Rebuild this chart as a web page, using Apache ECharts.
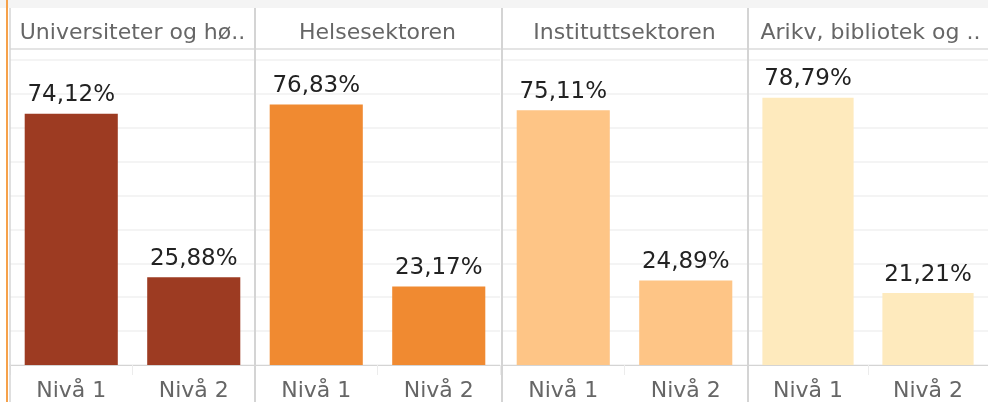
<!DOCTYPE html>
<html>
<head>
<meta charset="utf-8">
<script src="https://cdn.jsdelivr.net/npm/echarts@6/dist/echarts.min.js"></script>
<style>
  html, body { margin: 0; padding: 0; background: #fff; }
  #chart { width: 988px; height: 402px; }
</style>
</head>
<body>
<div id="chart"></div>
<script>
// data
const sectors = ['Universiteter og hø..', 'Helsesektoren', 'Instituttsektoren', 'Arikv, bibliotek og ..']
const levels = ['Nivå 1', 'Nivå 2']
const niva1 = [74.12, 76.83, 75.11, 78.79]
const niva2 = [25.88, 23.17, 24.89, 21.21]
const colors = ['#9D3B22', '#F08A31', '#FEC586', '#FEEABD']

// layout
const panelLeft = [10, 255, 502, 748]
const panelWidth = 245
const plotTop = 49
const axisY = 365
const font = 'DejaVu Sans'

const chart = echarts.init(document.getElementById('chart'))

let grids = [], xAxes = [], yAxes = [], series = [], graphics = []

// top band + left lines
graphics.push({ type: 'rect', shape: { x: 0, y: 0, width: 988, height: 8 }, style: { fill: '#f4f4f4' }, z: 0 })
graphics.push({ type: 'rect', shape: { x: 6, y: 0, width: 2, height: 402 }, style: { fill: '#F6A14A' }, z: 10 })
graphics.push({ type: 'line', shape: { x1: 10, y1: 8, x2: 10, y2: 402 }, style: { stroke: '#d4d4d4', lineWidth: 1.5 }, z: 10 })
graphics.push({ type: 'line', shape: { x1: 10, y1: plotTop, x2: 988, y2: plotTop }, style: { stroke: '#d4d4d4', lineWidth: 1 }, z: 10 })

sectors.forEach((name, i) => {
  const left = panelLeft[i]
  grids.push({ left: left, width: panelWidth, top: plotTop, bottom: 402 - axisY })
  xAxes.push({
    type: 'category',
    gridIndex: i,
    data: levels,
    axisLine: { lineStyle: { color: '#d4d4d4', width: 1 } },
    axisTick: { show: true, length: 10, lineStyle: { color: '#ececec' } },
    axisLabel: { color: '#666', fontSize: 22, fontFamily: font, margin: 15 }
  })
  yAxes.push({
    type: 'value',
    gridIndex: i,
    min: 0,
    max: 93.2,
    interval: 10,
    axisLabel: { show: false },
    axisLine: { show: false },
    axisTick: { show: false },
    splitLine: { lineStyle: { color: '#f0f0f0', width: 1.5 } }
  })
  series.push({
    type: 'bar',
    xAxisIndex: i,
    yAxisIndex: i,
    barWidth: '76%',
    data: [niva1[i], niva2[i]],
    itemStyle: { color: colors[i] },
    label: {
      show: true,
      position: 'top',
      distance: 7,
      color: '#222',
      fontSize: 23,
      fontFamily: font,
      formatter: p => p.value.toFixed(2).replace('.', ',') + '%'
    }
  })
  graphics.push({
    type: 'text',
    x: left + panelWidth / 2,
    y: 33,
    style: { text: name, fill: '#666', fontSize: 22, fontFamily: font, align: 'center', verticalAlign: 'middle' },
    z: 10
  })
  if (i > 0) {
    graphics.push({ type: 'line', shape: { x1: left, y1: 8, x2: left, y2: 402 }, style: { stroke: '#d4d4d4', lineWidth: 2 }, z: 10 })
  }
})

chart.setOption({
  animation: false,
  grid: grids,
  xAxis: xAxes,
  yAxis: yAxes,
  series: series,
  graphic: graphics
})
</script>
</body>
</html>
